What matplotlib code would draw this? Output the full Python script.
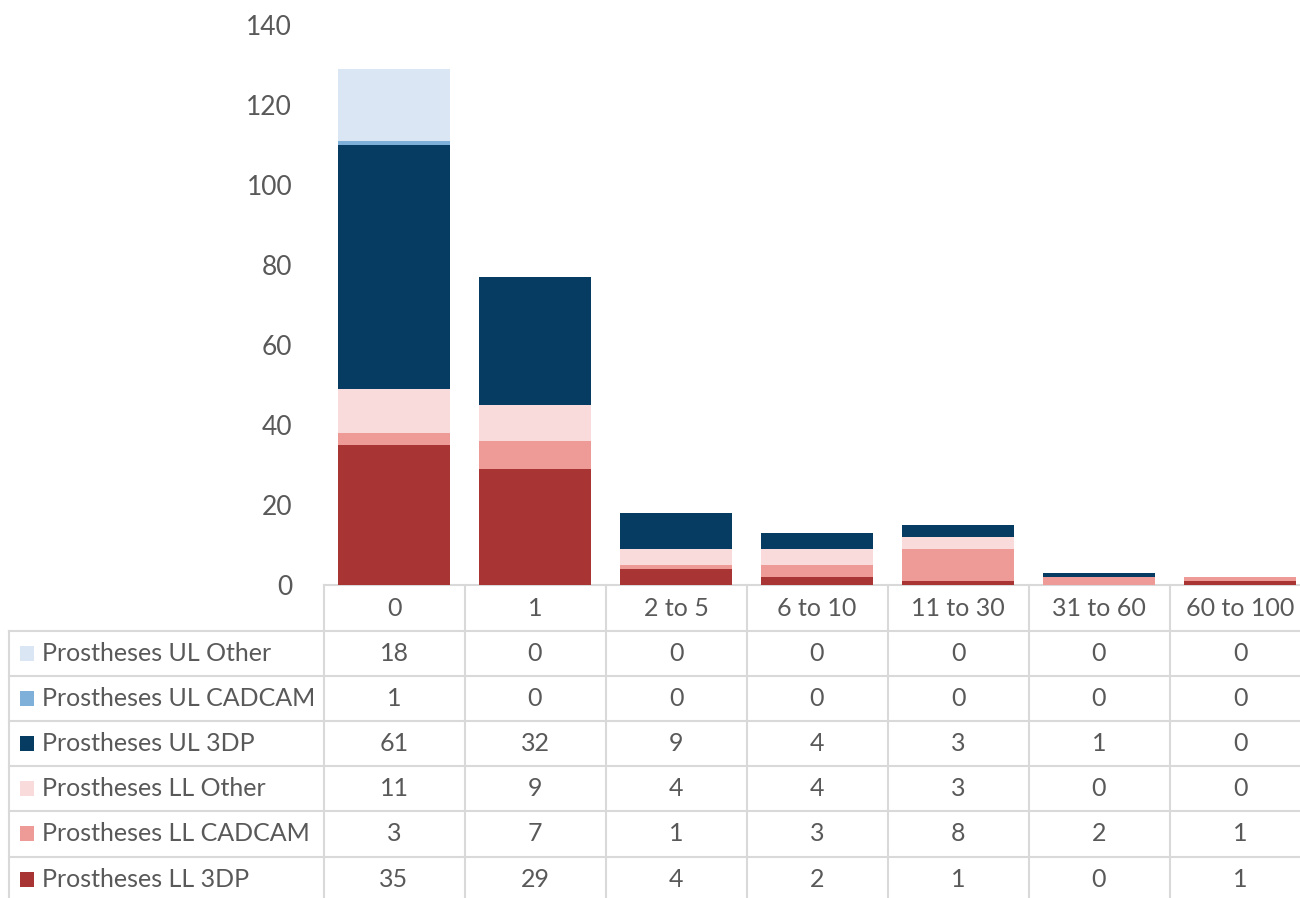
import matplotlib
matplotlib.use('Agg')
import matplotlib.pyplot as plt
from matplotlib.lines import Line2D
from matplotlib.patches import Rectangle
import matplotlib.transforms as mtransforms

plt.rcParams['font.family'] = ['Lato', 'DejaVu Sans']

categories = ['0', '1', '2 to 5', '6 to 10', '11 to 30', '31 to 60', '60 to 100']
series_names = ['Prostheses UL Other', 'Prostheses UL CADCAM', 'Prostheses UL 3DP',
                'Prostheses LL Other', 'Prostheses LL CADCAM', 'Prostheses LL 3DP']
ul_other = [18, 0, 0, 0, 0, 0, 0]
ul_cadcam = [1, 0, 0, 0, 0, 0, 0]
ul_3dp = [61, 32, 9, 4, 3, 1, 0]
ll_other = [11, 9, 4, 4, 3, 0, 0]
ll_cadcam = [3, 7, 1, 3, 8, 2, 1]
ll_3dp = [35, 29, 4, 2, 1, 0, 1]
yticks = [0, 20, 40, 60, 80, 100, 120, 140]

series_values = [ul_other, ul_cadcam, ul_3dp, ll_other, ll_cadcam, ll_3dp]
series_colors = ['#DAE6F3', '#7EB0D9', '#073C62', '#FADBDC', '#EE9A97', '#A83434']

W, H = 1300, 898
TXT = '#595959'
GRID = '#D9D9D9'

fig = plt.figure(figsize=(W / 100, H / 100), dpi=100)
ax_left, ax_right = 323.5, 1310.5
ax_top, ax_bottom = 25, 585
ax = fig.add_axes([ax_left / W, (H - ax_bottom) / H, (ax_right - ax_left) / W, (ax_bottom - ax_top) / H])
ax.set_xlim(-0.5, len(categories) - 0.5)
ax.set_ylim(0, 140)

x = list(range(len(categories)))
bottom = [0] * len(categories)
# stacking order: bottom LL 3DP ... top UL Other
for name, vals, col in reversed(list(zip(series_names, series_values, series_colors))):
    ax.bar(x, vals, width=0.8, bottom=bottom, color=col, label=name, linewidth=0)
    bottom = [b + v for b, v in zip(bottom, vals)]

for s in ax.spines.values():
    s.set_visible(False)
ax.set_xticks([])
ax.set_yticks(yticks)
ax.set_yticklabels([str(t) for t in yticks])
ax.tick_params(axis='y', length=0, pad=22.5, labelsize=19, labelcolor=TXT)
ax.axhline(0, color=GRID, lw=1.5, clip_on=False, zorder=0)

# ---- data table ----
fy = lambda p: 1 - p / H
fx = lambda p: p / W
blend = mtransforms.blended_transform_factory(ax.transData, fig.transFigure)

header_top, header_bottom = 585, 630.5
row_h = 45.2
row_edges = [header_bottom + i * row_h for i in range(len(series_names) + 1)]
label_left = 9
FS = 18

# vertical lines of value columns
for i in range(len(categories) + 1):
    xv = i - 0.5
    fig.add_artist(Line2D([xv, xv], [fy(header_top), fy(H + 10)], transform=blend, color=GRID, lw=1.5))
# label column left border
fig.add_artist(Line2D([fx(label_left), fx(label_left)], [fy(header_bottom), fy(H + 10)],
                      transform=fig.transFigure, color=GRID, lw=1.5))
# horizontal row lines
for ye in row_edges:
    fig.add_artist(Line2D([fx(label_left), 1.02], [fy(ye), fy(ye)],
                          transform=fig.transFigure, color=GRID, lw=1.5))

# header text
for i, c in enumerate(categories):
    fig.text(i, fy((header_top + header_bottom) / 2 + 0.5), c, transform=blend,
             ha='center', va='center', fontsize=FS, color=TXT)

# rows
for r, (name, vals, col) in enumerate(zip(series_names, series_values, series_colors)):
    yc = (row_edges[r] + row_edges[r + 1]) / 2
    sw = 15
    fig.add_artist(Rectangle((fx(19.5), fy(yc + sw / 2)), fx(14.5), sw / H,
                             transform=fig.transFigure, facecolor=col, edgecolor='none'))
    fig.text(fx(42), fy(yc), name, ha='left', va='center', fontsize=FS, color=TXT)
    for i, v in enumerate(vals):
        fig.text(i, fy(yc), str(v), transform=blend, ha='center', va='center',
                 fontsize=FS, color=TXT)

fig.savefig('out.png', dpi=100)
